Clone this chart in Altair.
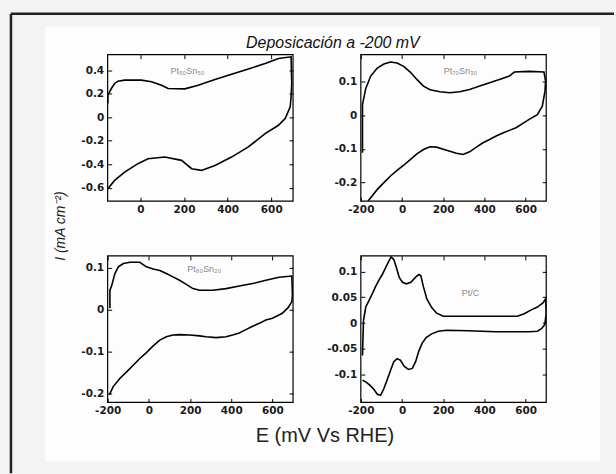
import altair as alt
import pandas as pd

# ---------------- data ----------------
# Panel A : Pt50Sn50
A_x = [-149, -149, -133, -118, -103, -72, 5, 51, 97, 127, 204, 265, 342, 418, 495, 572, 633, 691,
       694, 691, 687,
       664, 633, 572, 495, 418, 342, 280, 235, 189, 112, 35, -11, -72, -118, -149]
A_y = [0.116, 0.187, 0.244, 0.287, 0.306, 0.315, 0.315, 0.301, 0.272, 0.244, 0.241, 0.272, 0.321, 0.366,
       0.409, 0.457, 0.499, 0.513,
       0.287, 0.173, 0.088,
       -0.011, -0.068, -0.139, -0.252, -0.338, -0.409, -0.451, -0.437, -0.366, -0.338, -0.352, -0.394,
       -0.465, -0.536, -0.607]

# Panel B : Pt70Sn30
B_x = [-192, -192, -176, -152, -120, -88, -56, -24, 8, 40, 72, 104, 136, 184, 232, 280, 328, 377, 425,
       473, 521, 545, 617, 689, 697, 694, 681,
       657, 617, 585, 553, 521, 489, 457, 425, 393, 361, 328, 296, 264, 232, 200, 168, 136, 104, 72,
       40, 8, -24, -56, -88, -120, -152, -165]
B_y = [-0.112, 0.032, 0.080, 0.117, 0.141, 0.153, 0.159, 0.156, 0.146, 0.129, 0.107, 0.087, 0.076,
       0.070, 0.067, 0.070, 0.077, 0.087, 0.097, 0.107, 0.117, 0.129, 0.131, 0.129, 0.102, 0.072, 0.027,
       0.002, -0.012, -0.025, -0.037, -0.045, -0.053, -0.062, -0.072, -0.082, -0.095, -0.109, -0.117,
       -0.113, -0.107, -0.101, -0.095, -0.094, -0.102, -0.115, -0.132, -0.149, -0.164, -0.181, -0.201,
       -0.221, -0.246, -0.256]

# Panel C : Pt80Sn20
C_x = [-189, -189, -181, -165, -148, -124, -92, -44, -12, 21, 53, 85, 117, 149, 182, 214, 246, 310,
       375, 439, 504, 568, 632, 694, 697, 694,
       677, 648, 600, 568, 536, 504, 471, 439, 407, 375, 326, 278, 246, 198, 149, 117, 85, 53, 21,
       -12, -44, -76, -108, -140, -173, -192]
C_y = [0.003, 0.046, 0.056, 0.086, 0.102, 0.110, 0.113, 0.113, 0.102, 0.097, 0.093, 0.086, 0.078,
       0.070, 0.060, 0.050, 0.046, 0.046, 0.050, 0.056, 0.062, 0.070, 0.077, 0.080, 0.034, 0.019,
       0.005, -0.009, -0.021, -0.025, -0.033, -0.040, -0.048, -0.056, -0.061, -0.065, -0.067, -0.065,
       -0.063, -0.061, -0.060, -0.061, -0.065, -0.073, -0.087, -0.103, -0.117, -0.133, -0.149, -0.164,
       -0.184, -0.204]

# Panel D : Pt/C
D_x = [-192, -187, -176, -160, -144, -128, -112, -96, -80, -64, -53, -40, -27, -14, 2, 21, 43, 66,
       82, 91, 104, 120, 144, 168, 200, 296, 456, 560, 593, 625, 657, 684, 697, 700, 693,
       677, 657, 617, 456, 320, 216, 176, 144, 117, 98, 82, 66, 50, 31, 11, -8, -24, -40, -56, -72,
       -88, -104, -120, -136, -155, -176, -192]
D_y = [-0.063, 0.005, 0.031, 0.044, 0.057, 0.071, 0.083, 0.094, 0.107, 0.120, 0.128, 0.123, 0.107,
       0.089, 0.079, 0.076, 0.079, 0.089, 0.094, 0.092, 0.070, 0.047, 0.030, 0.019, 0.013, 0.013,
       0.013, 0.013, 0.018, 0.025, 0.031, 0.039, 0.047, 0.018, -0.003,
       -0.011, -0.016, -0.017, -0.017, -0.015, -0.014, -0.016, -0.021, -0.028, -0.039, -0.054,
       -0.075, -0.088, -0.090, -0.084, -0.072, -0.069, -0.075, -0.092, -0.110, -0.127, -0.140,
       -0.138, -0.129, -0.121, -0.114, -0.111]

panel_labels = ["Pt₅₀Sn₅₀", "Pt₇₀Sn₃₀", "Pt₈₀Sn₂₀", "Pt/C"]
label_pos_x = [216, 284, 269, 332]
label_pos_y = [0.395, 0.133, 0.097, 0.0585]

x_domains = [[-150, 700], [-200, 700], [-200, 700], [-200, 700]]
y_domains = [[-0.712, 0.532], [-0.256, 0.181], [-0.222, 0.128], [-0.154, 0.130]]
x_ticks = [[0, 200, 400, 600], [-200, 0, 200, 400, 600], [-200, 0, 200, 400, 600],
           [-200, 0, 200, 400, 600]]
y_ticks = [[0.4, 0.2, 0, -0.2, -0.4, -0.6], [0.1, 0, -0.1, -0.2], [0.1, 0, -0.1, -0.2],
           [0.1, 0.05, 0, -0.05, -0.1]]

title_text = "Deposicación a -200 mV"
x_title = "E (mV Vs RHE)"
y_title = "I (mA cm⁻²)"

W, H = 186, 147
FONT = "Liberation Sans"
TICK_FONT = "DejaVu Sans"
OUTER_BG = "#f3f3f3"
INNER_BG = "#fdfdfd"


def panel(i, xs, ys, extra=None):
    df = pd.DataFrame({"x": xs, "y": ys, "i": list(range(len(xs)))})
    xs_ = alt.Scale(domain=x_domains[i], nice=False, zero=False)
    ys_ = alt.Scale(domain=y_domains[i], nice=False, zero=False)
    common = dict(grid=False, domain=False, tickSize=4, offset=-4, tickColor="black",
                  tickWidth=1, title=None, zindex=2)
    lab_style = dict(labelExpr="'' + datum.value", labelFont=TICK_FONT, labelFontSize=10.5,
                     labelFontWeight="bold", labelColor="#1a1a1a", labelFlush=False)
    line = alt.Chart(df).mark_line(color="black", strokeWidth=1.6, clip=True).encode(
        x=alt.X("x:Q", scale=xs_, axis=alt.Axis(values=x_ticks[i], labelPadding=3,
                                                 **lab_style, **common)),
        y=alt.Y("y:Q", scale=ys_, axis=alt.Axis(values=y_ticks[i], labelPadding=4,
                                                 **lab_style, **common)),
        order="i:Q",
    )
    mirror = alt.Chart(df).mark_point(opacity=0).encode(
        x=alt.X("x:Q", scale=xs_, axis=alt.Axis(orient="top", values=x_ticks[i], labels=False,
                                                 **common)),
        y=alt.Y("y:Q", scale=ys_, axis=alt.Axis(orient="right", values=y_ticks[i], labels=False,
                                                 **common)),
    )
    lab_df = pd.DataFrame({"x": [label_pos_x[i]], "y": [label_pos_y[i]], "t": [panel_labels[i]]})
    lab = alt.Chart(lab_df).mark_text(font=FONT, fontSize=9, color="#888").encode(
        x=alt.X("x:Q", scale=xs_, axis=None),
        y=alt.Y("y:Q", scale=ys_, axis=None),
        text="t:N",
    )
    box = alt.Chart(alt.Data(values=[{}])).mark_rect(fill=None, stroke="black",
                                                     strokeWidth=1.2).encode(
        x=alt.value(0), x2=alt.value(W), y=alt.value(0), y2=alt.value(H))
    layers = (extra or []) + [box, line, mirror, lab]
    return alt.layer(*layers).resolve_axis(x="independent", y="independent").properties(
        width=W, height=H)


one = alt.Data(values=[{}])
bg = alt.Chart(one).mark_rect(fill=OUTER_BG).encode(
    x=alt.value(-108), x2=alt.value(508), y=alt.value(-54), y2=alt.value(420))
inner = alt.Chart(one).mark_rect(fill=INNER_BG).encode(
    x=alt.value(-63), x2=alt.value(494), y=alt.value(-28), y2=alt.value(408))
frame_top = alt.Chart(one).mark_rule(color="#222", strokeWidth=2.5).encode(
    x=alt.value(-97), x2=alt.value(508), y=alt.value(-41))
frame_left = alt.Chart(one).mark_rule(color="#222", strokeWidth=2.5).encode(
    x=alt.value(-97), y=alt.value(-41), y2=alt.value(420))
title = alt.Chart(one).mark_text(font=FONT, fontSize=16, fontStyle="italic", color="#111",
                                 baseline="alphabetic").encode(
    x=alt.value(226), y=alt.value(-7), text=alt.value(title_text))
xlab = alt.Chart(one).mark_text(font=FONT, fontSize=20, color="#222",
                                baseline="alphabetic").encode(
    x=alt.value(218), y=alt.value(389), text=alt.value(x_title))
ylab = alt.Chart(one).mark_text(font=FONT, fontSize=14, fontStyle="italic", color="#222",
                                angle=270, baseline="middle").encode(
    x=alt.value(-47), y=alt.value(172), text=alt.value(y_title))

p1 = panel(0, A_x, A_y, [bg, inner, frame_top, frame_left, title, xlab, ylab])
p2 = panel(1, B_x, B_y)
p3 = panel(2, C_x, C_y)
p4 = panel(3, D_x, D_y)

chart = alt.concat(p1, p2, p3, p4, columns=2, bounds="flush",
                   spacing={"row": 55, "column": 68}).properties(
    background=OUTER_BG, padding=0, autosize=alt.AutoSizeParams(type="pad")
).configure_view(stroke=None)

chart.save("out.html", embed_options={"renderer": "svg", "actions": False})
